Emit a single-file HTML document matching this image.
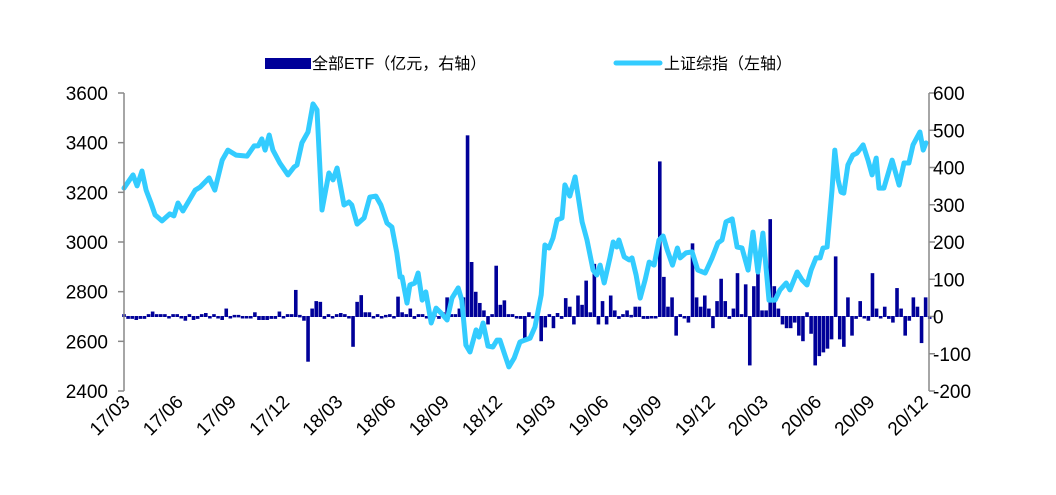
<!DOCTYPE html>
<html><head><meta charset="utf-8"><style>
body{margin:0;background:#fff;}
svg{display:block;font-family:"Liberation Sans","Noto Sans CJK SC",sans-serif;}
</style></head><body>
<svg id="chart" width="1056" height="495" viewBox="0 0 1056 495"></svg>
<script>
// ETF weekly net flow (亿元, right axis), one value per week starting 17/03
const etfFlows = [
5,-5,-5,-8,-5,-5,5,12,5,5,
5,-3,5,5,-3,-10,5,-8,-5,5,
8,-3,5,-3,-8,20,-3,3,3,0,
0,0,10,-8,-8,-8,-5,-5,12,-3,
5,5,70,3,-10,-120,20,40,38,-5,
5,-3,5,8,5,-3,-80,38,56,10,
10,-3,5,-3,3,5,-3,52,10,5,
20,-5,5,5,-3,5,10,-5,10,50,
5,5,20,50,485,145,65,35,15,-20,
5,135,30,42,5,5,-3,-5,-60,10,
-3,5,-65,-28,5,-30,8,-5,48,25,
-20,55,30,95,10,140,-20,40,-20,55,
15,-5,5,15,3,25,25,-5,-5,-3,
-3,415,105,25,50,-50,5,0,-15,195,
50,25,55,20,-30,40,100,40,-5,20,
115,5,85,-130,80,115,15,15,260,80,
20,-20,-30,-30,-15,-50,-65,10,-45,-130,
-105,-95,-85,-60,160,-60,-80,50,-50,-5,
40,0,-10,115,20,0,25,-5,-15,75,
20,-50,-10,50,25,-70,50,-5];
// 上证综指 (left axis): time in weeks since 17/03, and index level
const idxWeeks = [0,2.2,3.2,4.4,5.4,6.6,7.6,9.3,11.2,12.2,13.2,14.4,17.4,18.6,20.8,22.2,24,25.4,27.4,30.1,31.8,32.8,33.7,34.5,35.5,36.4,38.1,40.1,41.6,42.3,43.5,45,46.2,47.2,48.4,50.1,51.1,52.1,53.8,55,55.7,57,58.7,60.1,61.6,62.8,64.3,65.5,66.7,67.5,68,69.2,69.9,71.1,71.9,72.9,73.8,75.1,76.3,77.5,79,80.2,81.7,82.6,83.6,84.6,86.1,86.8,87.8,89,90.2,91.2,91.9,93.2,94.1,95.4,96.8,98,99.3,100.5,102,102.9,103.9,104.9,105.9,107.1,107.8,109,110.3,111,112,113.2,114.7,115.6,116.4,117.4,118.8,119.6,120.5,121,122.3,123.5,124.2,125.2,126.2,127.4,128.4,129.6,130.8,131.8,132.8,134.1,135.3,136,137.4,138.9,140.3,142.1,143.8,145.2,146.2,147.2,148.7,149.9,151.1,152.6,153.8,155,156.2,157.7,159.2,160.4,161.9,162.8,164.6,165.8,167,168,169.2,170.2,170.9,171.9,173.1,173.8,174.6,175.3,176,177,178.2,179.2,180.7,181.9,182.9,183.9,184.6,185.8,187.8,189.5,190.7,191.9,192.9,194.6,195.4,196.1];
const idxValues = [3217,3270,3226,3286,3209,3157,3109,3085,3113,3105,3157,3125,3209,3221,3258,3209,3330,3370,3350,3346,3387,3387,3415,3370,3431,3370,3318,3270,3302,3310,3399,3443,3556,3532,3129,3278,3250,3298,3149,3161,3149,3072,3097,3181,3185,3149,3076,3060,2956,2859,2859,2754,2827,2835,2875,2766,2799,2674,2734,2714,2686,2774,2815,2766,2585,2557,2646,2617,2674,2581,2577,2605,2605,2541,2497,2533,2597,2605,2613,2658,2787,2988,2976,3016,3089,3097,3230,3185,3262,3189,3081,3008,2887,2867,2907,2835,2936,3000,2980,3008,2940,2928,2936,2867,2774,2847,2919,2907,3008,3024,2968,2907,2976,2936,2956,2960,2887,2875,2936,2996,3008,3081,3093,2980,2976,2887,3040,2879,3036,2766,2766,2807,2835,2807,2879,2847,2827,2887,2936,2936,2976,2980,3209,3370,3250,3201,3197,3310,3350,3358,3391,3330,3270,3338,3217,3217,3330,3229,3318,3318,3391,3443,3370,3399];
const leftTicks = [2400,2600,2800,3000,3200,3400,3600];
const rightTicks = [-200,-100,0,100,200,300,400,500,600];
const xLabels = ["17/03","17/06","17/09","17/12","18/03","18/06","18/09","18/12","19/03","19/06","19/09","19/12","20/03","20/06","20/09","20/12"];

const NS="http://www.w3.org/2000/svg";
const svg=document.getElementById('chart');
const L=124,R=929,T=93,B=391;
const xW=w=>L+w*4.09;
const xLab=i=>L+i*53.2;
const yL=v=>B-(v-2400)*(B-T)/1200;
const yR=v=>B-(v+200)*(B-T)/800;
function mk(tag,attrs){const e=document.createElementNS(NS,tag);for(const k in attrs)e.setAttribute(k,attrs[k]);svg.appendChild(e);return e;}

etfFlows.forEach((v,i)=>{
  const x=xW(i)-1.8, y0=yR(0), y1=yR(v);
  const r=mk('rect',{x:x,y:Math.min(y0,y1)-0.5,width:3.6,height:Math.max(Math.abs(y1-y0),1.5)+1,fill:'#000099'});
  
  
});
let d='';
idxWeeks.forEach((w,i)=>{d+=(i?'L':'M')+xW(w).toFixed(1)+','+yL(idxValues[i]).toFixed(1);});
const ln=mk('path',{d:d,fill:'none',stroke:'#33CCFF','stroke-width':5,'stroke-linejoin':'round','stroke-linecap':'round'});



const la=mk('line',{x1:L,y1:T,x2:L,y2:B,stroke:'#888','stroke-width':1.5});


const ra=mk('line',{x1:R,y1:T,x2:R,y2:B,stroke:'#888','stroke-width':1.5});


leftTicks.forEach(v=>{
  mk('line',{x1:L-6,y1:yL(v),x2:L,y2:yL(v),stroke:'#888','stroke-width':1.5});
  const t=mk('text',{x:L-16,y:yL(v)+7,'text-anchor':'end','font-size':19,fill:'#000'});
  t.textContent=v;
  
  
});
rightTicks.forEach(v=>{
  mk('line',{x1:R,y1:yR(v),x2:R+6,y2:yR(v),stroke:'#888','stroke-width':1.5});
  const t=mk('text',{x:R+4,y:yR(v)+7,'text-anchor':'start','font-size':19,fill:'#000'});
  t.textContent=v;
  
  
});
xLabels.forEach((s,i)=>{
  const x=xLab(i)+7,y=403;
  const t=mk('text',{x:x,y:y,'text-anchor':'end','font-size':19,fill:'#000',transform:`rotate(-45 ${x} ${y})`});
  t.textContent=s;
  
  
});

const lb=mk('rect',{x:265,y:58,width:46,height:11,fill:'#000099'});


const lt1=mk('text',{x:312,y:69,'font-size':16,fill:'#000'});
lt1.textContent='全部ETF（亿元，右轴）';


const ll=mk('line',{x1:616,y1:63,x2:660,y2:63,stroke:'#33CCFF','stroke-width':5,'stroke-linecap':'round'});


const lt2=mk('text',{x:664,y:69,'font-size':16,fill:'#000'});
lt2.textContent='上证综指（左轴）';


</script>
</body></html>
